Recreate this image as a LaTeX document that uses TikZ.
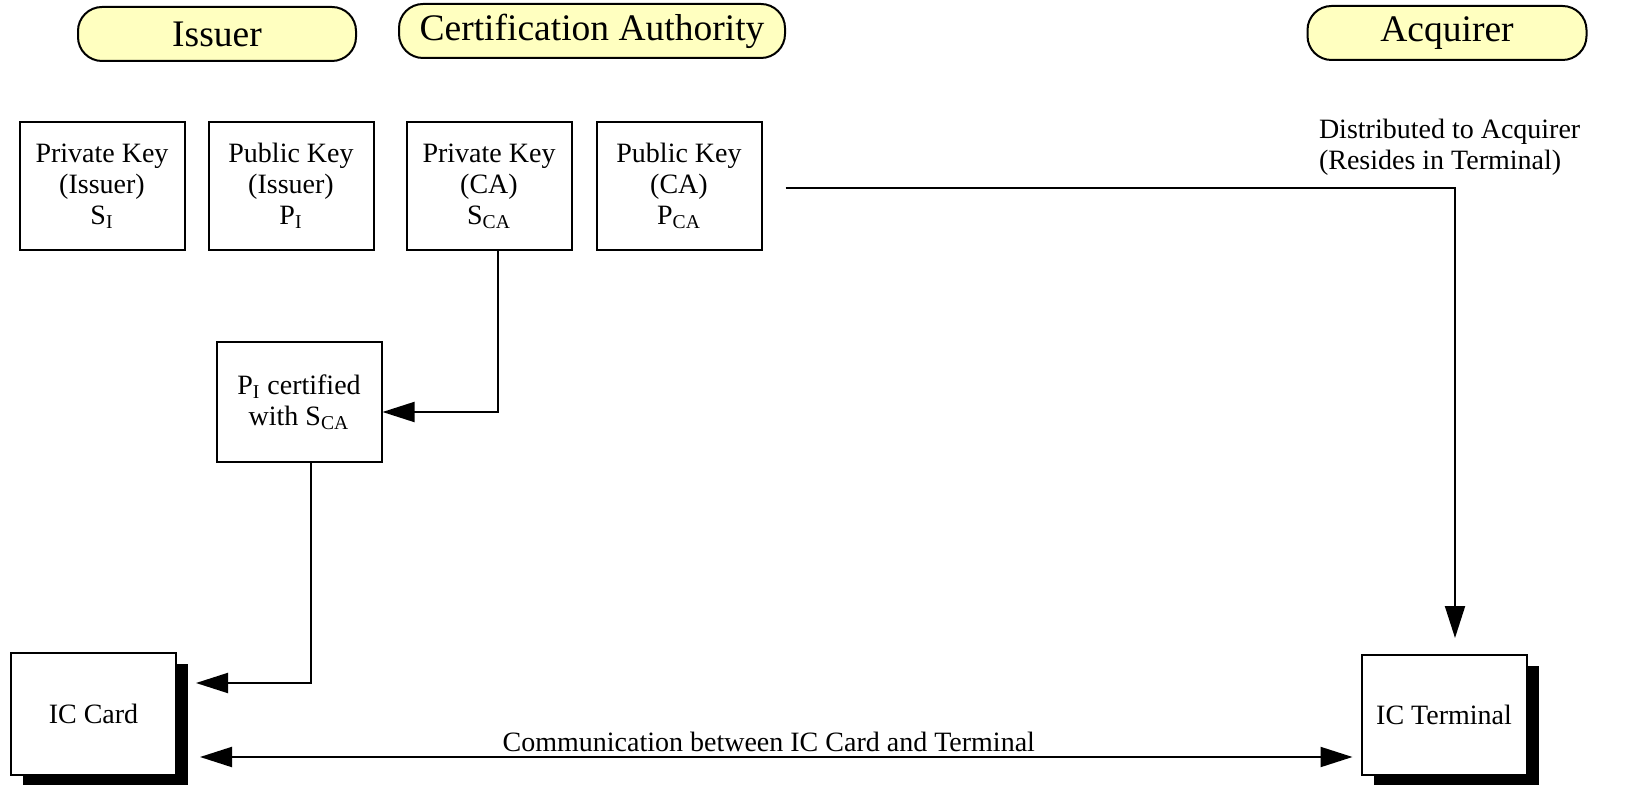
\documentclass[tikz,border=0pt]{standalone}
\usepackage{fontspec}
\setmainfont{Liberation Serif}
\usetikzlibrary{arrows.meta,shadows}
\definecolor{pillyellow}{RGB}{255,255,192}
\newcommand{\boxwd}{82.5pt}
\newcommand{\boxht}{64pt}
\newcommand{\keyfont}{\fontsize{14}{15.5}\selectfont}
\newcommand{\partyfont}{\fontsize{18.75}{20}\selectfont}

\begin{document}
\begin{tikzpicture}[x=0.5pt, y=-0.5pt, line width=1pt, >={Triangle[length=16pt,width=10pt]},
        party/.style={draw, fill=pillyellow, rounded corners=12pt, minimum height=27pt, font=\partyfont},
        keybox/.style={draw, minimum width=\boxwd, minimum height=\boxht, align=center, inner sep=0pt, font=\keyfont},
        device/.style={keybox, minimum height=61pt, fill=white, drop shadow={shadow xshift=6pt, shadow yshift=-5.5pt, fill=black, opacity=1}},
        conn/.style={->}]
        \useasboundingbox (0, 0) rectangle (1647, 785);

        % parties
        \node (issuer) [party, minimum width=139pt] at (217, 34) {Issuer};
        \node (ca) [party, minimum width=193pt] at (592, 31) {Certification Authority};
        \node (acquirer) [party, minimum width=139.5pt] at (1447, 33) {Acquirer};

        % keys
        \node (si) [keybox] at (102, 186) {Private Key\\(Issuer)\\S\textsubscript{I}};
        \node (pi) [keybox] at (291, 186) {Public Key\\(Issuer)\\P\textsubscript{I}};
        \node (sca) [keybox] at (489, 186) {Private Key\\(CA)\\S\textsubscript{CA}};
        \node (pca) [keybox] at (679, 186) {Public Key\\(CA)\\P\textsubscript{CA}};
        \node (cert) [keybox, minimum height=60pt] at (299, 402) {P\textsubscript{I} certified\\with S\textsubscript{CA}};

        % devices
        \node (card) [device] at (93.5, 714) {IC Card};
        \node (terminal) [device, minimum height=60pt] at (1444, 715) {IC Terminal};

        \node (distnote) [anchor=north west, align=left, inner sep=0pt, font=\keyfont] at (1318, 118)
            {Distributed to Acquirer\\(Resides in Terminal)};

        \coordinate (caturn) at (498, 412);
        \coordinate (certturn) at (311, 683);
        \coordinate (acqturn) at (1455, 188);
        \coordinate (comm) at (760, 757);

        % connectors
        \draw[conn] (sca.south -| caturn) -- (caturn) -- (caturn -| cert.east);
        \draw[conn, shorten >=9.5pt] (cert.south -| certturn) -- (certturn) -- (certturn -| card.east);
        \draw[conn, shorten <=11.5pt, shorten >=8pt] (pca.east |- acqturn) -- (acqturn) -- (acqturn |- terminal.north);
        \draw[<->, shorten <=11.5pt, shorten >=4pt] (card.east |- comm) --
            node[above, inner sep=2pt, font=\keyfont] {Communication between IC Card and Terminal}
            (terminal.west |- comm);
\end{tikzpicture}
\end{document}
